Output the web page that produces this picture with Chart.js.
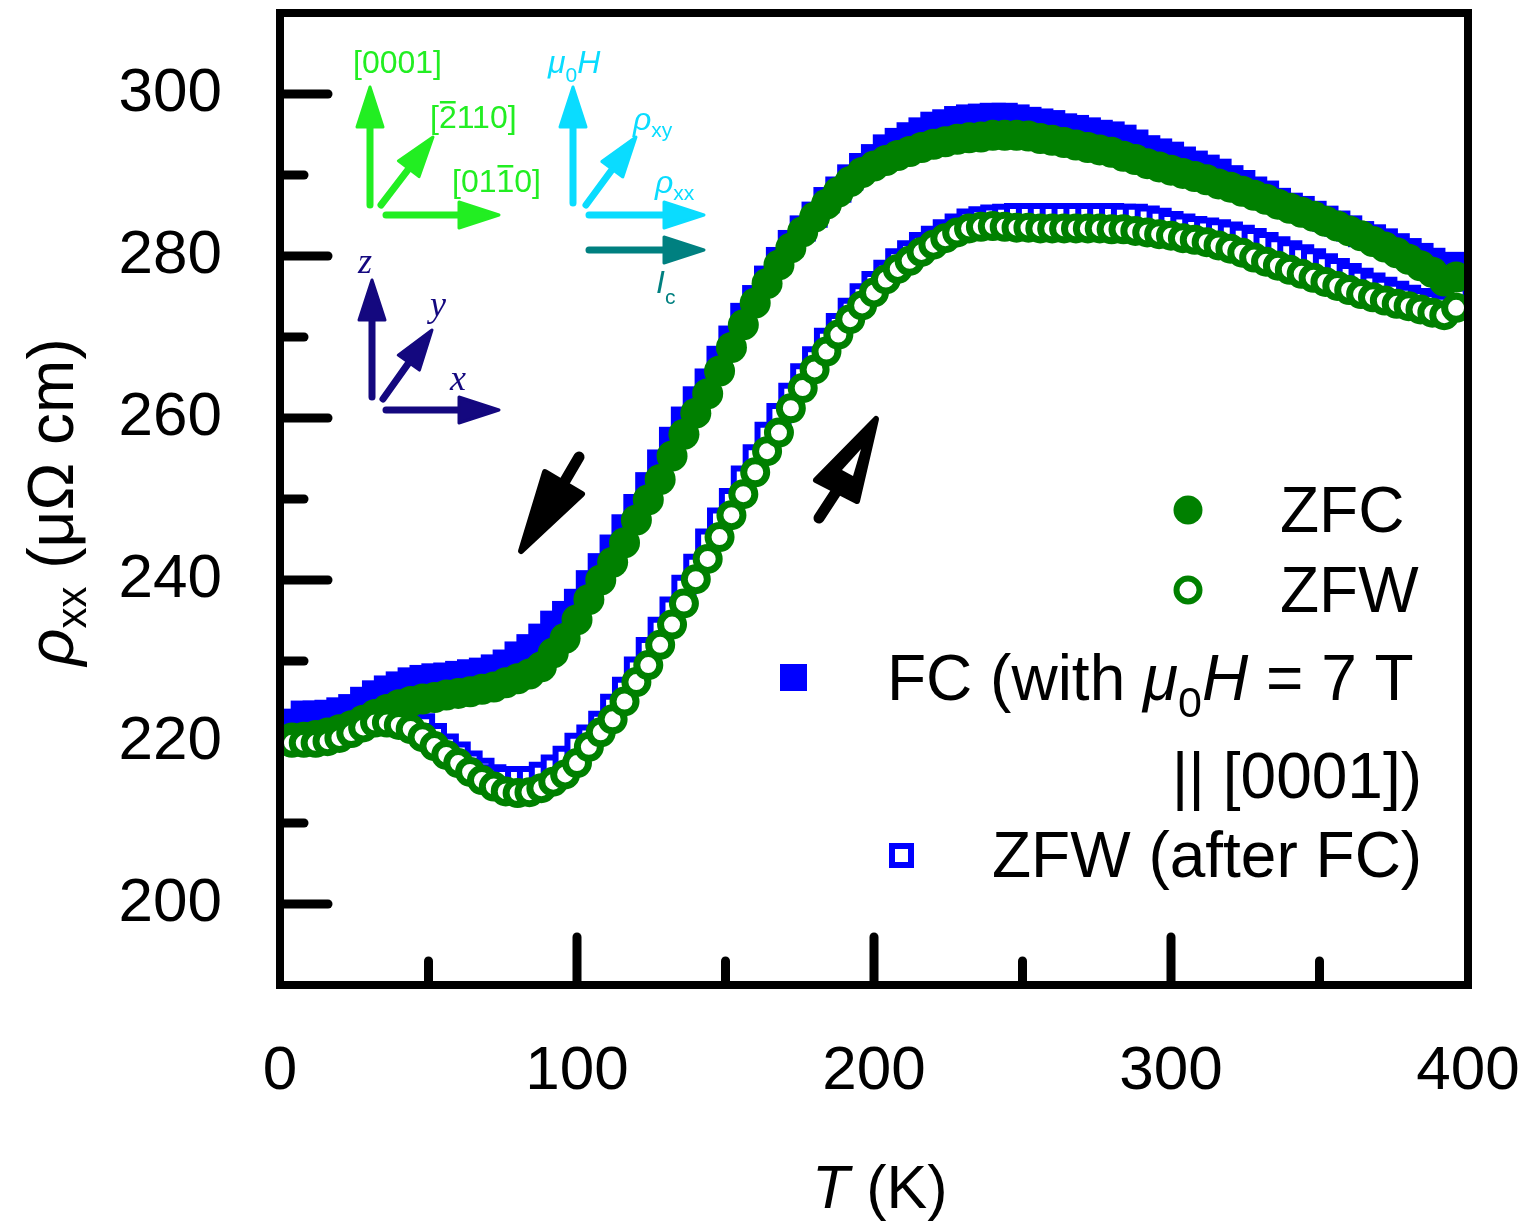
<!DOCTYPE html>
<html>
<head>
<meta charset="utf-8">
<script src="https://cdn.jsdelivr.net/npm/chart.js@4.4.0/dist/chart.umd.min.js"></script>
<style>
  html, body { margin: 0; padding: 0; background: #fff; }
</style>
</head>
<body>
<canvas id="c" width="1531" height="1226"></canvas>
<script>
// temperature (K) of each measured point
const temps = [4,8,12,16,20,24,28,32,36,40,44,48,52,56,60,64,68,72,76,80,84,88,92,96,100,
  104,108,112,116,120,124,128,132,136,140,144,148,152,156,160,164,168,172,176,180,184,188,192,196,200,
  204,208,212,216,220,224,228,232,236,240,244,248,252,256,260,264,268,272,276,280,284,288,292,296,300,
  304,308,312,316,320,324,328,332,336,340,344,348,352,356,360,364,368,372,376,380,384,388,392,396];

// rho_xx (uOhm cm)
const zfc = [
  220.5,220.6,220.8,221.1,221.5,222.0,222.7,223.4,224.0,224.6,
  225.0,225.3,225.5,225.8,226.0,226.2,226.5,226.8,227.3,227.8,
  228.4,229.3,231.0,232.8,235.1,237.6,240.0,242.2,244.6,247.4,
  249.9,252.4,255.3,258.0,260.6,263.0,265.8,268.7,271.5,274.2,
  276.6,278.9,281.0,283.0,284.8,286.4,287.9,289.2,290.3,291.1,
  291.8,292.4,292.9,293.4,293.8,294.1,294.4,294.6,294.7,294.9,
  294.9,294.9,294.8,294.5,294.3,294.0,293.7,293.4,293.1,292.8,
  292.3,291.9,291.4,291.0,290.6,290.2,289.8,289.4,288.9,288.5,
  288.0,287.5,287.0,286.4,285.9,285.4,284.9,284.3,283.7,283.1,
  282.5,281.8,281.1,280.4,279.6,278.8,278.0,276.9,277.4];

const zfw = [
  219.9,219.9,219.9,220.1,220.5,221.1,221.8,222.4,222.4,222.1,
  221.6,220.6,219.5,218.4,217.4,216.3,215.3,214.5,213.9,213.7,
  213.8,214.3,215.1,216.0,217.4,219.4,221.2,222.8,225.0,227.4,
  229.5,232.0,234.5,237.1,240.1,242.6,245.3,248.0,250.6,253.3,
  255.9,258.2,261.2,263.7,266.0,268.2,270.3,272.2,273.9,275.5,
  277.1,278.4,279.4,280.5,281.4,282.2,282.9,283.4,283.6,283.7,
  283.6,283.5,283.5,283.4,283.4,283.4,283.4,283.4,283.4,283.3,
  283.3,283.1,282.9,282.7,282.5,282.2,282.0,281.7,281.3,280.9,
  280.4,279.8,279.3,278.8,278.3,277.8,277.3,276.8,276.3,275.8,
  275.3,274.9,274.5,274.1,273.8,273.4,273.0,272.7,273.6];

const fc = [
  222.5,223.5,223.5,223.6,223.9,224.3,225.2,226.0,226.6,227.1,
  227.6,227.9,228.1,228.2,228.4,228.6,228.8,229.2,229.8,230.8,
  231.7,233.0,234.6,235.8,237.3,239.6,241.7,244.0,246.5,249.0,
  251.7,254.5,257.3,259.8,262.3,264.5,267.3,269.8,272.6,274.8,
  277.2,279.5,281.6,283.4,285.1,286.9,288.2,289.7,291.1,292.2,
  293.4,294.2,294.9,295.5,296.2,296.5,296.9,297.1,297.2,297.3,
  297.3,297.1,296.8,296.6,296.4,296.0,295.8,295.5,295.2,295.0,
  294.6,294.0,293.3,292.9,292.5,291.9,291.4,290.9,290.4,289.6,
  289.0,288.2,287.7,286.8,286.2,285.8,285.2,284.6,284.0,283.4,
  282.7,282.3,281.8,281.2,280.6,280.0,279.4,278.6,278.9];

const zfwAfterFc = [
  221.0,221.0,221.0,221.2,221.6,222.2,222.8,223.3,223.4,223.2,
  222.8,222.0,220.8,219.5,218.5,217.4,216.5,215.7,215.5,215.5,
  215.5,216.0,216.9,218.0,219.6,220.6,222.3,224.4,226.5,229.0,
  231.4,233.9,236.4,239.1,241.7,244.8,247.4,249.8,252.6,255.2,
  258.0,260.3,262.8,265.2,267.3,269.6,271.4,273.3,275.1,276.6,
  278.0,279.4,280.4,281.4,282.2,283.0,283.7,284.3,284.6,284.8,
  284.9,285.0,285.0,285.0,285.0,285.0,285.0,285.0,285.0,285.0,
  284.9,284.9,284.7,284.4,284.0,283.7,283.4,283.2,283.0,282.7,
  282.3,281.9,281.4,280.9,280.4,279.9,279.4,278.8,278.2,277.6,
  277.0,276.4,275.9,275.4,274.9,274.5,274.1,273.8,274.8];

const xTicks = [0, 100, 200, 300, 400];
const xMinorTicks = [50, 150, 250, 350];
const yTicks = [200, 220, 240, 260, 280, 300];
const yMinorTicks = [210, 230, 250, 270, 290];

const GREEN = '#008000';
const BLUE = '#0000ff';
const SANS = '"Liberation Sans", Arial, sans-serif';
const SERIF = '"Liberation Serif", "Times New Roman", serif';
const PLOT_TOP = 13;

function pts(vals) {
  return temps.map((t, i) => ({ x: t, y: vals[i] }));
}

// draw a run of text pieces: {t, size, italic, dy, family}
function rich(ctx, x, y, parts, align) {
  let total = 0;
  const font = p => (p.italic ? 'italic ' : '') + p.size + 'px ' + (p.family || SANS);
  parts.forEach(p => { ctx.font = font(p); p.w = ctx.measureText(p.t).width; total += p.w; });
  let cx = align === 'right' ? x - total : align === 'center' ? x - total / 2 : x;
  parts.forEach(p => {
    ctx.font = font(p);
    ctx.fillText(p.t, cx, y + (p.dy || 0));
    p.x = cx;
    cx += p.w;
  });
  return parts;
}

function arrow(ctx, x1, y1, x2, y2, color) {
  const a = Math.atan2(y2 - y1, x2 - x1);
  const hl = 40, hw = 13;
  const bx = x2 - hl * Math.cos(a), by = y2 - hl * Math.sin(a);
  ctx.strokeStyle = color;
  ctx.fillStyle = color;
  ctx.lineWidth = 7;
  ctx.lineCap = 'round';
  ctx.beginPath();
  ctx.moveTo(x1, y1);
  ctx.lineTo(bx + 4 * Math.cos(a), by + 4 * Math.sin(a));
  ctx.stroke();
  ctx.lineWidth = 3;
  ctx.lineJoin = 'round';
  ctx.beginPath();
  ctx.moveTo(x2, y2);
  ctx.lineTo(bx - hw * Math.sin(a), by + hw * Math.cos(a));
  ctx.lineTo(bx + hw * Math.sin(a), by - hw * Math.cos(a));
  ctx.closePath();
  ctx.fill();
  ctx.stroke();
}

// pin the top of the plot box (the tick labels otherwise push it down)
const pinTop = {
  id: 'pinTop',
  afterLayout(chart) {
    const ca = chart.chartArea;
    const ys = chart.scales.y;
    ca.top = PLOT_TOP;
    ca.height = ca.bottom - ca.top;
    ys.top = PLOT_TOP;
    ys.height = ys.bottom - ys.top;
    ys.configure();
  }
};

// inward tick marks sit under the data points
const tickMarks = {
  id: 'tickMarks',
  beforeDatasetsDraw(chart) {
    const ctx = chart.ctx;
    const ca = chart.chartArea;
    const xs = chart.scales.x, ys = chart.scales.y;
    ctx.save();
    ctx.strokeStyle = '#000';
    ctx.lineWidth = 9;
    ctx.lineCap = 'round';
    const tick = (x1, y1, x2, y2) => { ctx.beginPath(); ctx.moveTo(x1, y1); ctx.lineTo(x2, y2); ctx.stroke(); };
    yTicks.forEach(v => { const p = ys.getPixelForValue(v); tick(ca.left + 3, p, ca.left + 48, p); });
    yMinorTicks.forEach(v => { const p = ys.getPixelForValue(v); tick(ca.left + 3, p, ca.left + 24, p); });
    xTicks.slice(1, -1).forEach(v => { const p = xs.getPixelForValue(v); tick(p, ca.bottom - 3, p, ca.bottom - 48); });
    xMinorTicks.forEach(v => { const p = xs.getPixelForValue(v); tick(p, ca.bottom - 3, p, ca.bottom - 24); });
    ctx.restore();
  }
};

const decor = {
  id: 'decor',
  afterDraw(chart) {
    const ctx = chart.ctx;
    const ca = chart.chartArea;
    ctx.save();

    // frame
    ctx.strokeStyle = '#000';
    ctx.lineWidth = 8;
    ctx.strokeRect(ca.left, ca.top, ca.right - ca.left, ca.bottom - ca.top);

    // axis titles
    ctx.fillStyle = '#000';
    ctx.textBaseline = 'alphabetic';
    ctx.textAlign = 'left';
    rich(ctx, 812, 1208, [{ t: 'T', size: 61, italic: true }, { t: ' (K)', size: 61 }]);
    ctx.save();
    ctx.translate(73, 502);
    ctx.rotate(-Math.PI / 2);
    rich(ctx, 0, 0, [
      { t: 'ρ', size: 65, italic: true },
      { t: 'xx', size: 42, dy: 13 },
      { t: ' (μΩ cm)', size: 64 }
    ], 'center');
    ctx.restore();

    // legend
    ctx.fillStyle = GREEN;
    ctx.beginPath(); ctx.arc(1188, 510, 14.5, 0, Math.PI * 2); ctx.fill();
    ctx.strokeStyle = GREEN; ctx.lineWidth = 6; ctx.fillStyle = '#fff';
    ctx.beginPath(); ctx.arc(1188, 590, 11.5, 0, Math.PI * 2); ctx.fill(); ctx.stroke();
    ctx.fillStyle = BLUE;
    ctx.fillRect(780, 664, 27, 27);
    ctx.strokeStyle = BLUE; ctx.lineWidth = 6; ctx.fillStyle = '#fff';
    ctx.fillRect(892, 846, 19, 19); ctx.strokeRect(892, 846, 19, 19);

    ctx.fillStyle = '#000';
    rich(ctx, 1280, 532, [{ t: 'ZFC', size: 64 }]);
    rich(ctx, 1280, 612, [{ t: 'ZFW', size: 64 }]);
    rich(ctx, 887, 700, [
      { t: 'FC (with ', size: 64 },
      { t: 'μ', size: 64, italic: true },
      { t: '0', size: 43, dy: 17 },
      { t: 'H', size: 64, italic: true },
      { t: ' = 7 T', size: 64 }
    ]);
    rich(ctx, 1422, 798, [{ t: '|| [0001])', size: 64 }], 'right');
    rich(ctx, 992, 877, [{ t: 'ZFW (after FC)', size: 64 }]);

    // crystal axes inset
    const LIME = '#22ee22', CYAN = '#0adcff', TEAL = '#008080', NAVY = '#14087f';
    arrow(ctx, 370, 205, 370, 87, LIME);
    arrow(ctx, 381, 205, 433, 137, LIME);
    arrow(ctx, 386, 215, 499, 215, LIME);
    ctx.fillStyle = LIME;
    rich(ctx, 353, 73, [{ t: '[0001]', size: 32 }]);
    let p = rich(ctx, 430, 128, [{ t: '[', size: 32 }, { t: '2', size: 32 }, { t: '110]', size: 32 }]);
    ctx.fillRect(p[1].x + 1, 101, p[1].w - 2, 2.5);
    p = rich(ctx, 452, 192, [{ t: '[01', size: 32 }, { t: '1', size: 32 }, { t: '0]', size: 32 }]);
    ctx.fillRect(p[1].x + 1, 165, p[1].w - 2, 2.5);

    arrow(ctx, 573, 203, 573, 87, CYAN);
    arrow(ctx, 586, 205, 636, 137, CYAN);
    arrow(ctx, 589, 215, 704, 215, CYAN);
    ctx.fillStyle = CYAN;
    rich(ctx, 548, 73, [{ t: 'μ', size: 32, italic: true }, { t: '0', size: 21, dy: 9 }, { t: 'H', size: 32, italic: true }]);
    rich(ctx, 633, 130, [{ t: 'ρ', size: 32, italic: true }, { t: 'xy', size: 21, dy: 7 }]);
    rich(ctx, 655, 193, [{ t: 'ρ', size: 32, italic: true }, { t: 'xx', size: 21, dy: 7 }]);

    arrow(ctx, 589, 250, 704, 250, TEAL);
    ctx.fillStyle = TEAL;
    rich(ctx, 656, 293, [{ t: 'I', size: 32, italic: true }, { t: 'c', size: 21, dy: 11 }]);

    arrow(ctx, 372, 397, 372, 280, NAVY);
    arrow(ctx, 383, 399, 432, 330, NAVY);
    arrow(ctx, 386, 410, 499, 410, NAVY);
    ctx.fillStyle = NAVY;
    rich(ctx, 358, 273, [{ t: 'z', size: 36, italic: true, family: SERIF }]);
    rich(ctx, 430, 316, [{ t: 'y', size: 36, italic: true, family: SERIF }]);
    rich(ctx, 450, 390, [{ t: 'x', size: 36, italic: true, family: SERIF }]);

    // cooling / warming arrows
    ctx.fillStyle = '#000'; ctx.strokeStyle = '#000';
    ctx.lineCap = 'round'; ctx.lineJoin = 'round';
    ctx.lineWidth = 11;
    ctx.beginPath(); ctx.moveTo(579, 457); ctx.lineTo(562, 486); ctx.stroke();
    ctx.lineWidth = 6;
    ctx.beginPath(); ctx.moveTo(545, 472); ctx.lineTo(582, 494); ctx.lineTo(521, 551); ctx.closePath();
    ctx.fill(); ctx.stroke();

    ctx.lineWidth = 11;
    ctx.beginPath(); ctx.moveTo(819, 518); ctx.lineTo(836, 492); ctx.stroke();
    ctx.lineWidth = 6;
    ctx.beginPath(); ctx.moveTo(816, 480); ctx.lineTo(876, 419); ctx.lineTo(857, 501); ctx.closePath();
    ctx.fill(); ctx.stroke();
    ctx.fillStyle = '#fff';
    ctx.beginPath(); ctx.moveTo(842, 470); ctx.lineTo(861, 449); ctx.lineTo(853, 476); ctx.closePath(); ctx.fill();

    ctx.restore();
  }
};

const tickFont = { family: SANS, size: 62 };

new Chart(document.getElementById('c'), {
  type: 'scatter',
  data: {
    datasets: [
      {
        label: 'ZFW', data: pts(zfw), pointStyle: 'circle',
        pointRadius: 11.5, pointBorderWidth: 7,
        pointBorderColor: GREEN, pointBackgroundColor: '#fff'
      },
      {
        label: 'ZFC', data: pts(zfc), pointStyle: 'circle',
        pointRadius: 15.5, pointBorderWidth: 0,
        pointBorderColor: GREEN, pointBackgroundColor: GREEN
      },
      {
        label: 'ZFW (after FC)', data: pts(zfwAfterFc), pointStyle: 'rect',
        pointRadius: 13.5, pointBorderWidth: 6,
        pointBorderColor: BLUE, pointBackgroundColor: '#fff'
      },
      {
        label: 'FC (with μ0H = 7 T || [0001])', data: pts(fc), pointStyle: 'rect',
        pointRadius: 18.5, pointBorderWidth: 0,
        pointBorderColor: BLUE, pointBackgroundColor: BLUE
      }
    ]
  },
  options: {
    responsive: false,
    animation: false,
    devicePixelRatio: 1,
    layout: { padding: { left: 0, right: 63, top: 12, bottom: 0 } },
    plugins: { legend: { display: false }, tooltip: { enabled: false } },
    scales: {
      x: {
        type: 'linear', min: 0, max: 400,
        afterBuildTicks: s => { s.ticks = xTicks.map(v => ({ value: v })); },
        afterFit: s => { s.height = 241; s.paddingLeft = 0; s.paddingRight = 0; },
        grid: { display: false, drawTicks: false },
        border: { display: false },
        ticks: { font: tickFont, color: '#000', padding: 50, maxRotation: 0 }
      },
      y: {
        type: 'linear', min: 190, max: 310,
        afterBuildTicks: s => { s.ticks = yTicks.map(v => ({ value: v })); },
        afterFit: s => { s.width = 280; s.paddingTop = 0; s.paddingBottom = 0; },
        grid: { display: false, drawTicks: false },
        border: { display: false },
        ticks: { font: tickFont, color: '#000', padding: 58 }
      }
    }
  },
  plugins: [pinTop, tickMarks, decor]
});
</script>
</body>
</html>
